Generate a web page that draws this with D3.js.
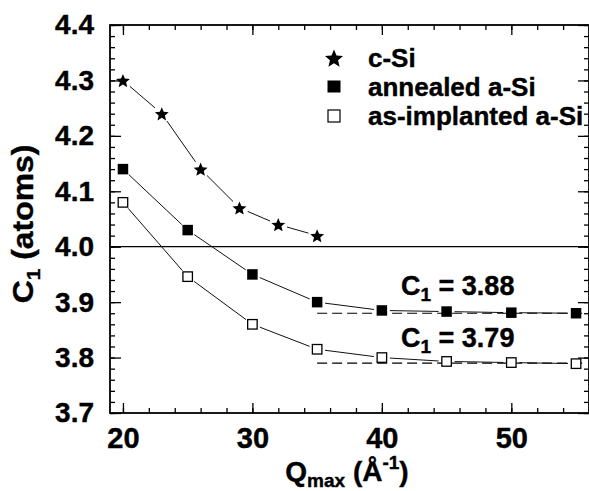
<!DOCTYPE html>
<html>
<head>
<meta charset="utf-8">
<script src="https://cdn.jsdelivr.net/npm/d3@7"></script>
<style>
    body { margin: 0; background: #fff; }
    svg { display: block; }
    text { font-family: "Liberation Sans", Arial, Helvetica, sans-serif; font-weight: bold; fill: #000;
           stroke: #000; stroke-width: 0.4; }
</style>
</head>
<body>
<svg id="chart"></svg>
<script>
// Q_max values (1/Angstrom) and C1 coordination numbers
const qCSi = [20, 23, 26, 29, 32, 35];
const c1CSi = [4.30, 4.24, 4.14, 4.07, 4.04, 4.02];

const qAmorph = [20, 25, 30, 35, 40, 45, 50, 55];
const c1Annealed = [4.14, 4.03, 3.95, 3.90, 3.885, 3.883, 3.881, 3.880];
const c1Implanted = [4.08, 3.946, 3.86, 3.815, 3.80, 3.793, 3.791, 3.789];

// plateau values shown with dashed lines
const plateaus = [3.88, 3.79];
const plateauLabels = ["3.88", "3.79"];
const plateauRange = [35, 55.5];

const legendNames = ["c-Si", "annealed a-Si", "as-implanted a-Si"];

const xTicks = [20, 30, 40, 50];
const yTicks = [3.7, 3.8, 3.9, 4.0, 4.1, 4.2, 4.3, 4.4];

const width = 589, height = 491;
const plot = {left: 110, right: 589, top: 25, bottom: 413};

const svg = d3.select("#chart").attr("width", width).attr("height", height);

const x = d3.scaleLinear().domain([19, 56]).range([plot.left, plot.right]);
const y = d3.scaleLinear().domain([3.7, 4.4]).range([plot.bottom, plot.top]);

const minorX = d3.range(20, 57, 2);
const minorY = d3.range(3.7, 4.401, 0.02);

// bottom axis with labels
let gx = svg.append("g").attr("transform", `translate(0,${plot.bottom})`)
    .call(d3.axisBottom(x).tickValues(xTicks).tickSize(-10).tickPadding(14).tickFormat(d3.format("d")));
gx.selectAll("text").attr("font-size", 29);
svg.append("g").attr("transform", `translate(0,${plot.bottom})`)
    .call(d3.axisBottom(x).tickValues(minorX).tickSize(-5).tickFormat(""));

// left axis with labels
let gy = svg.append("g").attr("transform", `translate(${plot.left},0)`)
    .call(d3.axisLeft(y).tickValues(yTicks).tickSize(-11).tickPadding(16).tickFormat(d3.format(".1f")));
gy.selectAll("text").attr("font-size", 28);
svg.append("g").attr("transform", `translate(${plot.left},0)`)
    .call(d3.axisLeft(y).tickValues(minorY).tickSize(-5).tickFormat(""));

// top and right ticks
svg.append("g").attr("transform", `translate(0,${plot.top})`)
    .call(d3.axisTop(x).tickValues(xTicks).tickSize(-10).tickFormat(""));
svg.append("g").attr("transform", `translate(0,${plot.top})`)
    .call(d3.axisTop(x).tickValues(minorX).tickSize(-5).tickFormat(""));
svg.append("g").attr("transform", `translate(${plot.right},0)`)
    .call(d3.axisRight(y).tickValues(yTicks).tickSize(-11).tickFormat(""));
svg.append("g").attr("transform", `translate(${plot.right},0)`)
    .call(d3.axisRight(y).tickValues(minorY).tickSize(-5).tickFormat(""));

svg.selectAll(".domain").remove();
svg.selectAll(".tick line").attr("stroke", "#000").attr("stroke-width", 1.3);

// frame
svg.append("rect")
    .attr("x", plot.left).attr("y", plot.top)
    .attr("width", plot.right - plot.left).attr("height", plot.bottom - plot.top)
    .attr("fill", "none").attr("stroke", "#000").attr("stroke-width", 1.8);

// reference line at C1 = 4
svg.append("line")
    .attr("x1", plot.left).attr("x2", plot.right)
    .attr("y1", y(4.0)).attr("y2", y(4.0))
    .attr("stroke", "#000").attr("stroke-width", 1.3);

// dashed plateau lines
plateaus.forEach(v => {
    svg.append("line")
        .attr("x1", x(plateauRange[0])).attr("x2", x(plateauRange[1]))
        .attr("y1", y(v)).attr("y2", y(v))
        .attr("stroke", "#000").attr("stroke-width", 1.1)
        .attr("stroke-dasharray", "10,5");
});

// connecting segments that stop short of the markers
function drawSegments(xs, ys, gap) {
    for (let i = 0; i < xs.length - 1; i++) {
        let x1 = x(xs[i]), y1 = y(ys[i]), x2 = x(xs[i + 1]), y2 = y(ys[i + 1]);
        let len = Math.hypot(x2 - x1, y2 - y1);
        let ux = (x2 - x1) / len, uy = (y2 - y1) / len;
        svg.append("line")
            .attr("x1", x1 + ux * gap).attr("y1", y1 + uy * gap)
            .attr("x2", x2 - ux * gap).attr("y2", y2 - uy * gap)
            .attr("stroke", "#111").attr("stroke-width", 1);
    }
}
drawSegments(qCSi, c1CSi, 9);
drawSegments(qAmorph, c1Annealed, 8);
drawSegments(qAmorph, c1Implanted, 8);

// fatter five-point star than d3.symbolStar; size = outer radius squared
const fatStar = {
    draw(ctx, size) {
        const r = Math.sqrt(size), ri = r * 0.45;
        for (let i = 0; i < 10; i++) {
            const a = -Math.PI / 2 + i * Math.PI / 5;
            const rr = i % 2 ? ri : r;
            if (i === 0) ctx.moveTo(rr * Math.cos(a), rr * Math.sin(a));
            else ctx.lineTo(rr * Math.cos(a), rr * Math.sin(a));
        }
        ctx.closePath();
    }
};
const star = d3.symbol().type(fatStar);

svg.append("g").selectAll("path")
    .data(qCSi.map((q, i) => [q, c1CSi[i]]))
    .join("path")
    .attr("d", star.size(7.3 * 7.3)())
    .attr("transform", d => `translate(${x(d[0])},${y(d[1]) + 0.8})`)
    .attr("fill", "#000");

const sq = 10.5;
svg.append("g").selectAll("rect")
    .data(qAmorph.map((q, i) => [q, c1Annealed[i]]))
    .join("rect")
    .attr("x", d => x(d[0]) - sq / 2).attr("y", d => y(d[1]) - sq / 2)
    .attr("width", sq).attr("height", sq)
    .attr("fill", "#000");

svg.append("g").selectAll("rect")
    .data(qAmorph.map((q, i) => [q, c1Implanted[i]]))
    .join("rect")
    .attr("x", d => x(d[0]) - sq / 2 + 0.5).attr("y", d => y(d[1]) - sq / 2 + 0.5)
    .attr("width", sq - 1).attr("height", sq - 1)
    .attr("fill", "#fff").attr("stroke", "#000").attr("stroke-width", 1.3);

// plateau labels
const labelY = [295, 347];
plateauLabels.forEach((t, i) => {
    let txt = svg.append("text").attr("x", 401).attr("y", labelY[i]).attr("font-size", 27);
    txt.append("tspan").text("C");
    txt.append("tspan").attr("font-size", 19).attr("dy", 6).text("1");
    txt.append("tspan").attr("dy", -6).text(" = " + t);
});

// legend
const legX = 334, legTextX = 368;
const legY = [58, 87, 116];
const leg = svg.append("g");
leg.append("path")
    .attr("d", star.size(9.5 * 9.5)())
    .attr("transform", `translate(${legX},${legY[0] + 1})`);
leg.append("rect")
    .attr("x", legX - 6.5).attr("y", legY[1] - 6.5)
    .attr("width", 13).attr("height", 12).attr("fill", "#000");
leg.append("rect")
    .attr("x", legX - 6).attr("y", legY[2] - 6)
    .attr("width", 12).attr("height", 12)
    .attr("fill", "#fff").attr("stroke", "#000").attr("stroke-width", 1.2);
leg.selectAll("text")
    .data(legendNames)
    .join("text")
    .attr("x", legTextX)
    .attr("y", (d, i) => legY[i] + 9)
    .attr("font-size", 26)
    .text(d => d);

// y axis title
let yt = svg.append("text")
    .attr("transform", "translate(33,224) rotate(-90) scale(1.1,1)")
    .attr("text-anchor", "middle")
    .attr("font-size", 29);
yt.append("tspan").text("C");
yt.append("tspan").attr("font-size", 19).attr("dy", 7).text("1");
yt.append("tspan").attr("dy", -7).text(" (atoms)");

// x axis title
let xt = svg.append("text")
    .attr("x", 347).attr("y", 481)
    .attr("text-anchor", "middle")
    .attr("font-size", 28);
xt.append("tspan").text("Q");
xt.append("tspan").attr("font-size", 19).attr("dy", 6).text("max");
xt.append("tspan").attr("dy", -6).text(" (Å");
xt.append("tspan").attr("font-size", 19).attr("dy", -12).text("-1");
xt.append("tspan").attr("dy", 12).text(")");
</script>
</body>
</html>
